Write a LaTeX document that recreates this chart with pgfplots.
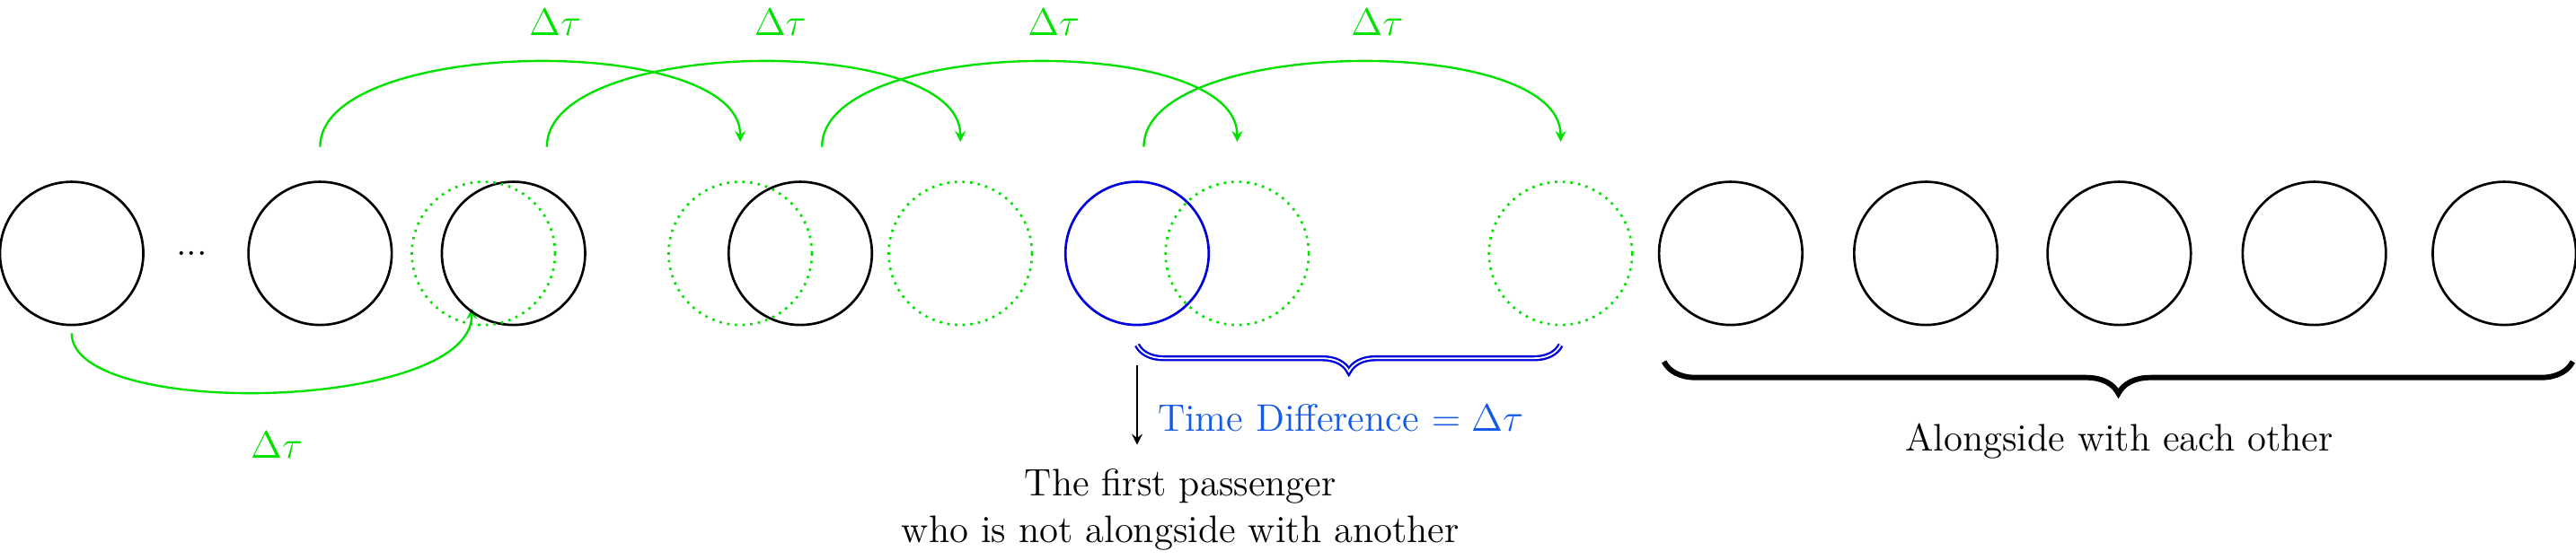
\documentclass[border=0pt]{standalone}
\usepackage{pgfplots}
\pgfplotsset{compat=1.18}
\usetikzlibrary{decorations.pathreplacing}
\definecolor{gr}{RGB}{0,225,0}
\definecolor{bl}{RGB}{0,0,220}
\definecolor{lb}{RGB}{20,90,230}
\begin{document}
\begin{tikzpicture}
\begin{axis}[width=34.5cm,height=7.52cm,scale only axis,xmin=0,xmax=1568,ymin=0,ymax=342,axis lines=none,clip=false]
\addplot[only marks,mark=o,mark size=26.9pt,mark options={black,line width=0.9pt}] coordinates {(55,185)(204,185)(320,185)(492,185)(1050,185)(1167,185)(1283,185)(1400,185)(1514,185)};
\addplot[only marks,mark=o,mark size=26.9pt,mark options={gr,dotted,line width=0.9pt}] coordinates {(302,185)(456,185)(588,185)(754,185)(948,185)};
\addplot[only marks,mark=o,mark size=26.9pt,mark options={bl,line width=0.9pt}] coordinates {(694,185)};
\node at (axis cs:127,185) {\Large ...};
\draw[gr,thick,-stealth] (axis cs:204,249) .. controls (axis cs:204,315) and (axis cs:456,318) .. (axis cs:456,252);
\draw[gr,thick,-stealth] (axis cs:340,249) .. controls (axis cs:340,315) and (axis cs:588,318) .. (axis cs:588,252);
\draw[gr,thick,-stealth] (axis cs:505,249) .. controls (axis cs:505,315) and (axis cs:754,318) .. (axis cs:754,252);
\draw[gr,thick,-stealth] (axis cs:698,249) .. controls (axis cs:698,315) and (axis cs:948,318) .. (axis cs:948,252);
\node[gr] at (axis cs:345,324) {\Large$\Delta\tau$};
\node[gr] at (axis cs:480,324) {\Large$\Delta\tau$};
\node[gr] at (axis cs:644,324) {\Large$\Delta\tau$};
\node[gr] at (axis cs:838,324) {\Large$\Delta\tau$};
\draw[gr,thick,-stealth] (axis cs:55,137) .. controls (axis cs:55,85) and (axis cs:295,90) .. (axis cs:295,152);
\node[gr] at (axis cs:178,70) {\Large$\Delta\tau$};
\draw[bl,double,thick,decorate,decoration={brace,mirror,amplitude=10pt}] (axis cs:694,130) -- (axis cs:948,130);
\node[lb] at (axis cs:816,86) {\Large Time Difference $=\Delta\tau$};
\draw[black,line width=2pt,decorate,decoration={brace,mirror,amplitude=12pt}] (axis cs:1010,120) -- (axis cs:1555,120);
\node at (axis cs:1283,72) {\Large Alongside with each other};
\draw[-stealth,thick] (axis cs:694,118) -- (axis cs:694,70);
\node at (axis cs:720,45) {\Large The first passenger};
\node at (axis cs:720,17) {\Large who is not alongside with another};
\end{axis}
\end{tikzpicture}
\end{document}
